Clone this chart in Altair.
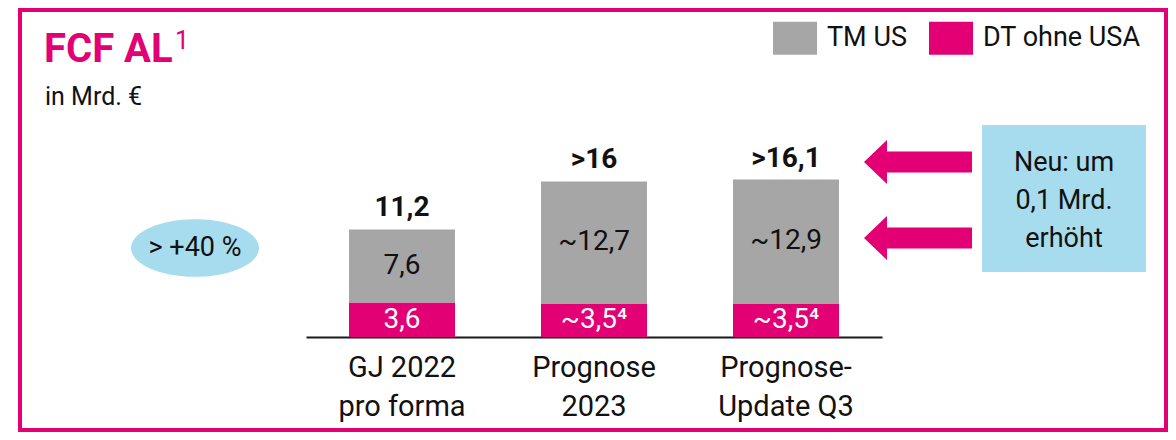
import altair as alt
import pandas as pd

# ---- data ----
categories = ["GJ 2022|pro forma", "Prognose|2023", "Prognose-|Update Q3"]
series = ["TM US", "DT ohne USA"]
colors = ["#a6a6a6", "#e20074"]
tm_us = [7.6, 12.7, 12.9]
dt_ohne_usa = [3.6, 3.5, 3.5]
tm_us_labels = ["7,6", "~12,7", "~12,9"]
dt_labels = ["3,6", "~3,5⁴", "~3,5⁴"]
total_labels = ["11,2", ">16", ">16,1"]
title_text = "FCF AL"
title_sup = "1"
subtitle_text = "in Mrd. €"
badge_text = "> +40 %"
note_lines = ["Neu: um", "0,1 Mrd.", "erhöht"]

MAGENTA = "#e20074"
BLUE = "#a6dcee"
FONT = "Roboto"

rows = []
for c, t, d, tl, dl in zip(categories, tm_us, dt_ohne_usa, tm_us_labels, dt_labels):
    rows.append({"cat": c, "series": "DT ohne USA", "start": 0.0, "end": d,
                 "mid": d / 2, "label": dl, "ord": 0})
    rows.append({"cat": c, "series": "TM US", "start": d, "end": d + t,
                 "mid": d + t / 2, "label": tl, "ord": 1})
df = pd.DataFrame(rows)
tot = pd.DataFrame({"cat": categories,
                    "total": [a + b for a, b in zip(tm_us, dt_ohne_usa)],
                    "label": total_labels})
one = pd.DataFrame({"k": [0]})

xscale = alt.Scale(domain=categories, range=[298, 874],
                   paddingInner=0.448, paddingOuter=0.224)
yscale = alt.Scale(domain=[0, 329 / 9.6], nice=False, zero=True)

xenc = alt.X("cat:N", scale=xscale, sort=categories, title=None,
             axis=alt.Axis(domainColor="#1a1a1a", domainWidth=2, ticks=False,
                           labelAngle=0, labelFont=FONT, labelFontSize=29,
                           labelColor="#111", labelPadding=16, labelLineHeight=39,
                           labelExpr="split(datum.label, '|')", grid=False,
                           labelLimit=300))

bars = alt.Chart(df).mark_bar(size=106).encode(
    x=xenc,
    y=alt.Y("start:Q", scale=yscale, axis=None),
    y2="end:Q",
    color=alt.Color("series:N", scale=alt.Scale(domain=series, range=colors),
                    legend=alt.Legend(
                        title=None, orient="none", legendX=765, legendY=8,
                        direction="horizontal",
                        symbolType="M-1,-0.75H1V0.75H-1Z", symbolSize=1936,
                        symbolStrokeWidth=0, symbolOpacity=1,
                        labelFont=FONT, labelFontSize=27, labelColor="#111",
                        labelOffset=10, columnPadding=22, padding=0,
                        labelLimit=300)),
    order=alt.Order("ord:Q"),
)

seg_text = alt.Chart(df).mark_text(font=FONT, fontSize=28, baseline="middle").encode(
    x=alt.X("cat:N", scale=xscale, sort=categories),
    y=alt.Y("mid:Q", scale=yscale),
    text="label:N",
    color=alt.Color("series:N", scale=alt.Scale(domain=series, range=["#111", "#ffffff"]),
                    legend=None),
)

tot_text = alt.Chart(tot).mark_text(font=FONT, fontSize=28, fontWeight="bold",
                                    baseline="middle", dy=-21, color="#111").encode(
    x=alt.X("cat:N", scale=xscale, sort=categories),
    y=alt.Y("total:Q", scale=yscale),
    text="label:N",
)

frame = alt.Chart(one).mark_rect(fill=None, stroke=MAGENTA, strokeWidth=4).encode(
    x=alt.value(12), x2=alt.value(1158), y=alt.value(2), y2=alt.value(422))

title = alt.Chart(one).mark_text(text=title_text, font=FONT, fontSize=40,
                                 fontWeight="bold", color=MAGENTA, align="left",
                                 baseline="middle").encode(
    x=alt.value(36), y=alt.value(42))
title_s = alt.Chart(one).mark_text(text=title_sup, font=FONT, fontSize=25,
                                   fontWeight="normal", color=MAGENTA, align="left",
                                   baseline="middle").encode(
    x=alt.value(167), y=alt.value(33))
subtitle = alt.Chart(one).mark_text(text=subtitle_text, font=FONT, fontSize=25,
                                    color="#111", align="left",
                                    baseline="middle").encode(
    x=alt.value(37), y=alt.value(89))

ellipse = alt.Chart(one).mark_point(
    shape="M-1,0A1,0.45,0,1,0,1,0A1,0.45,0,1,0,-1,0Z", size=128 * 128,
    filled=True, fill=BLUE, opacity=1, strokeWidth=0).encode(
    x=alt.value(187), y=alt.value(240))
badge = alt.Chart(one).mark_text(text=badge_text, font=FONT, fontSize=27,
                                 color="#111", baseline="middle").encode(
    x=alt.value(187), y=alt.value(240))

arrow_path = ("M-1,0L-0.574,-0.407L-0.574,-0.194L1,-0.194L1,0.194"
              "L-0.574,0.194L-0.574,0.407Z")
arrow1 = alt.Chart(one).mark_point(shape=arrow_path, size=108 * 108, filled=True,
                                   fill=MAGENTA, opacity=1, strokeWidth=0).encode(
    x=alt.value(910), y=alt.value(154))
arrow2 = alt.Chart(one).mark_point(shape=arrow_path, size=108 * 108, filled=True,
                                   fill=MAGENTA, opacity=1, strokeWidth=0).encode(
    x=alt.value(910), y=alt.value(230))

note_box = alt.Chart(one).mark_rect(fill=BLUE).encode(
    x=alt.value(974), x2=alt.value(1138), y=alt.value(117), y2=alt.value(264))
note = alt.Chart(one).mark_text(text=note_lines, font=FONT, fontSize=27,
                                color="#111", baseline="middle",
                                lineHeight=38).encode(
    x=alt.value(1056), y=alt.value(155))

chart = alt.layer(
    frame, title, title_s, subtitle, ellipse, badge, arrow1, arrow2, note_box, note,
    bars, seg_text, tot_text,
).resolve_scale(color="independent").properties(
    width=1160, height=329,
    autosize=alt.AutoSizeParams(type="none"),
    padding={"left": 0, "top": 0, "right": 0, "bottom": 95},
).configure_view(stroke=None)

chart.save("out.html", embed_options={"renderer": "svg", "actions": False})
